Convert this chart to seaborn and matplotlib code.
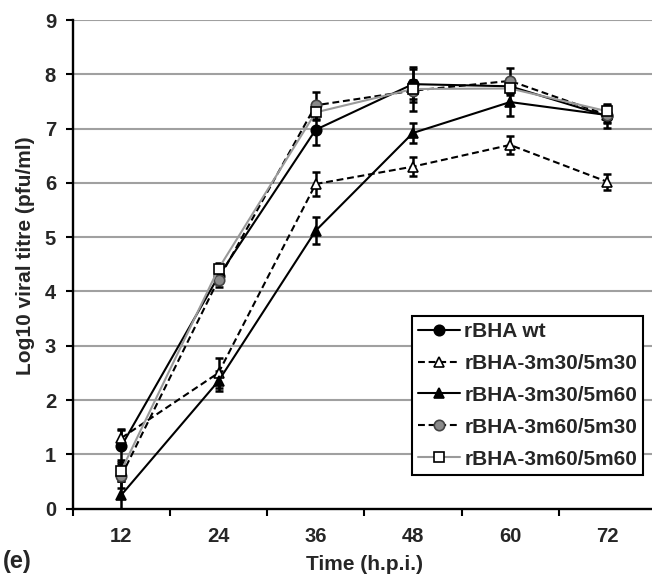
import matplotlib
matplotlib.use("Agg")
import matplotlib.pyplot as plt
import numpy as np
import pandas as pd
import seaborn as sns

# Sampling times (hours post infection)
times = ["12", "24", "36", "48", "60", "72"]

# Mean log10 titres and standard deviations per virus
wt = [1.15, 4.28, 6.98, 7.82, 7.78, 7.23]
wt_err = [0.30, 0.12, 0.28, 0.28, 0.12, 0.22]

m30_m30 = [1.30, 2.50, 5.98, 6.30, 6.70, 6.02]
m30_m30_err = [0.17, 0.28, 0.23, 0.17, 0.17, 0.15]

m30_m60 = [0.25, 2.35, 5.12, 6.92, 7.49, 7.25]
m30_m60_err = [0.25, 0.18, 0.25, 0.18, 0.25, 0.12]

m60_m30 = [0.60, 4.22, 7.43, 7.70, 7.88, 7.25]
m60_m30_err = [0.22, 0.13, 0.25, 0.20, 0.23, 0.15]

m60_m60 = [0.70, 4.42, 7.30, 7.73, 7.74, 7.32]
m60_m60_err = [0.20, 0.10, 0.15, 0.40, 0.12, 0.12]

names = ["rBHA wt", "rBHA-3m30/5m30", "rBHA-3m30/5m60",
         "rBHA-3m60/5m30", "rBHA-3m60/5m60"]
means = [wt, m30_m30, m30_m60, m60_m30, m60_m60]
errs = [wt_err, m30_m30_err, m30_m60_err, m60_m30_err, m60_m60_err]

y_ticks = list(range(0, 10))

sns.set_theme(style="white")
plt.rcParams["font.family"] = ["Liberation Sans", "DejaVu Sans"]
plt.rcParams["font.weight"] = "bold"

dash = (0, (3.3, 1.8))
styles = {
    "rBHA wt": dict(color="black", marker="o", mfc="black", mec="black", ls="-"),
    "rBHA-3m30/5m30": dict(color="black", marker="^", mfc="white", mec="black", ls=dash),
    "rBHA-3m30/5m60": dict(color="black", marker="^", mfc="black", mec="black", ls="-"),
    "rBHA-3m60/5m30": dict(color="black", marker="o", mfc="#8a8a8a", mec="#444444", ls=dash),
    "rBHA-3m60/5m60": dict(color="#9a9a9a", marker="s", mfc="white", mec="black", ls="-"),
}

rows = []
for name, m, e in zip(names, means, errs):
    for i, t in enumerate(times):
        rows.append({"virus": name, "time": t, "pos": i, "titre": m[i], "sd": e[i]})
df = pd.DataFrame(rows)

fig = plt.figure(figsize=(6.52, 5.74), dpi=100)
ax = fig.add_axes([0.1115, 0.114, 0.8945, 0.851])

# Horizontal grid
for v in y_ticks[1:]:
    ax.axhline(v, color="#a0a0a0", lw=1.5, zorder=0)

for name in names:
    sub = df[df["virus"] == name]
    ax.errorbar(sub["pos"], sub["titre"], yerr=sub["sd"], fmt="none",
                ecolor="black", elinewidth=1.8, capsize=3, capthick=1.8,
                zorder=2)
    st = styles[name]
    sns.lineplot(data=sub, x="pos", y="titre", ax=ax, label=name,
                 color=st["color"], linestyle=st["ls"], linewidth=1.5,
                 marker=st["marker"], markersize=7.5, markerfacecolor=st["mfc"],
                 markeredgecolor=st["mec"], markeredgewidth=1.2,
                 errorbar=None, zorder=3)

ax.set_xlim(-0.5, 5.5)
ax.set_ylim(0, 9)
ax.set_yticks(y_ticks)
ax.set_yticklabels([str(v) for v in y_ticks])
ax.set_xticks(range(len(times)))
ax.set_xticklabels(times)
ax.set_xticks(np.arange(-0.5, 6, 1.0), minor=True)
ax.tick_params(axis="x", which="major", length=0, pad=13, labelsize=14.5)
ax.tick_params(axis="x", which="minor", length=5, width=1.5, color="black",
               direction="out", bottom=True)
ax.tick_params(axis="y", which="major", length=5, width=1.5, color="black",
               direction="out", left=True, pad=7, labelsize=14.5)
for lab in ax.get_xticklabels() + ax.get_yticklabels():
    lab.set_fontweight("bold")

for side in ("top", "right"):
    ax.spines[side].set_visible(False)
for side in ("left", "bottom"):
    ax.spines[side].set_color("black")
    ax.spines[side].set_linewidth(1.7)

ax.set_xlabel("Time (h.p.i.)", fontsize=15, fontweight="bold")
ax.set_ylabel("Log10 viral titre (pfu/ml)", fontsize=15, fontweight="bold")
ax.xaxis.set_label_coords(0.5, -0.095)
ax.yaxis.set_label_coords(-0.065, 0.518)

leg = ax.legend(loc="lower left", bbox_to_anchor=(0.582, 0.069),
                borderaxespad=0, fontsize=15, frameon=True, fancybox=False,
                framealpha=1, edgecolor="black", handlelength=2.0,
                handletextpad=0.2, borderpad=0.3, labelspacing=0.62)
leg.get_frame().set_linewidth(1.5)
for txt in leg.get_texts():
    txt.set_fontweight("bold")

fig.text(0.004, 0.002, "(e)", fontsize=17, fontweight="bold",
         va="bottom", ha="left")

fig.savefig("out.png", dpi=100)
